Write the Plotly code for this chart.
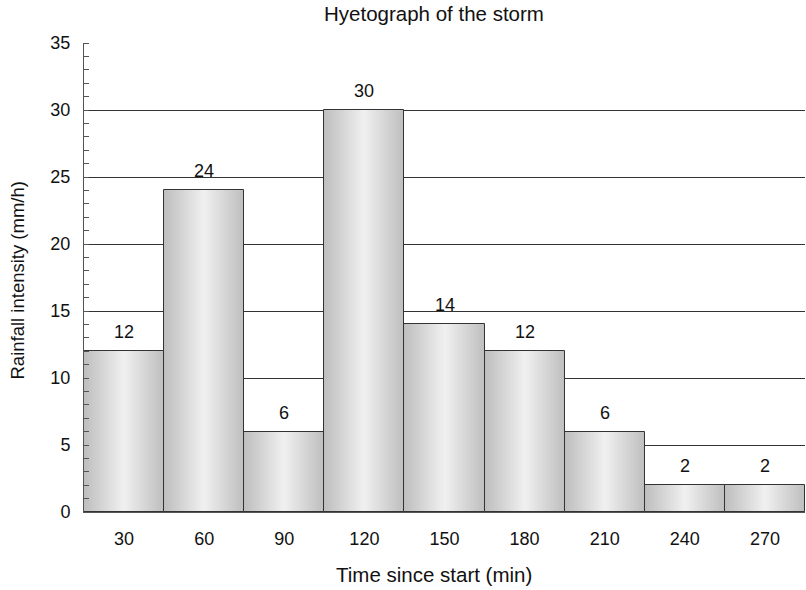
import plotly.graph_objects as go

# ---- data ----
time_min = [30, 60, 90, 120, 150, 180, 210, 240, 270]
intensity = [12, 24, 6, 30, 14, 12, 6, 2, 2]
y_ticks = [0, 5, 10, 15, 20, 25, 30, 35]
title_text = "Hyetograph of the storm"
x_title = "Time since start (min)"
y_title = "Rainfall intensity (mm/h)"

BAR_W = 30
N_SLICES = 40
FONT = "Liberation Sans, Arial, Helvetica, sans-serif"
TXT = "#111111"

fig = go.Figure()

# horizontal grey gradient built from thin slices of each bar
edge, center = 190, 240
for i in range(N_SLICES):
    t = (i + 0.5) / N_SLICES
    d = abs(t - 0.5) * 2  # 0 at center, 1 at edges
    g = int(round(center - (center - edge) * d))
    w = BAR_W / N_SLICES
    fig.add_trace(go.Bar(
        x=time_min, y=intensity,
        offset=-BAR_W / 2 + i * w, width=w * 1.02,
        marker=dict(color=f"rgb({g},{g},{g})", line=dict(width=0)),
        hoverinfo="skip", showlegend=False,
    ))

# outlines
fig.add_trace(go.Bar(
    x=time_min, y=intensity, width=BAR_W, offset=-BAR_W / 2,
    marker=dict(color="rgba(0,0,0,0)", line=dict(color="#333333", width=1)),
    showlegend=False,
))

# value labels
for xv, yv in zip(time_min, intensity):
    fig.add_annotation(x=xv, y=yv, text=str(yv), showarrow=False,
                       yanchor="bottom", yshift=7,
                       font=dict(family=FONT, size=18, color=TXT))

# titles
fig.add_annotation(xref="paper", yref="paper", x=0.5, y=1, yshift=30, xshift=-11,
                   text=title_text, showarrow=False, xanchor="center", yanchor="middle",
                   font=dict(family=FONT, size=20.5, color=TXT))
fig.add_annotation(xref="paper", yref="paper", x=0.5, y=0, yshift=-62, xshift=-11,
                   text=x_title, showarrow=False, xanchor="center", yanchor="middle",
                   font=dict(family=FONT, size=20.5, color=TXT))
fig.add_annotation(xref="paper", yref="paper", x=0, y=0.5, xshift=-67, yshift=-3,
                   text=y_title, showarrow=False, xanchor="center", yanchor="middle",
                   textangle=-90,
                   font=dict(family=FONT, size=18.5, color=TXT))

fig.update_layout(
    width=806, height=590,
    barmode="overlay", bargap=0,
    plot_bgcolor="white", paper_bgcolor="white",
    margin=dict(l=84, r=1, t=43, b=78, autoexpand=False),
    font=dict(family=FONT, size=18, color=TXT),
)

fig.update_xaxes(
    range=[time_min[0] - BAR_W / 2, time_min[-1] + BAR_W / 2],
    tickvals=time_min, ticktext=[str(v) for v in time_min],
    showgrid=False, zeroline=False, ticks="",
    showline=True, linecolor="#555555", linewidth=1,
    automargin=False, ticklabelstandoff=10,
    tickfont=dict(size=18),
)

fig.update_yaxes(
    range=[0, 35], tickvals=y_ticks,
    showgrid=True, gridcolor="#333333", gridwidth=1,
    zeroline=False, ticks="",
    showline=True, linecolor="#555555", linewidth=1,
    minor=dict(dtick=1, ticks="inside", ticklen=5, tickcolor="#555555", showgrid=False),
    automargin=False, ticklabelstandoff=9,
    tickfont=dict(size=18),
)

fig.write_html("out.html", config={"displayModeBar": False},
               post_script="document.body.style.margin='0';document.body.style.overflow='hidden';")
